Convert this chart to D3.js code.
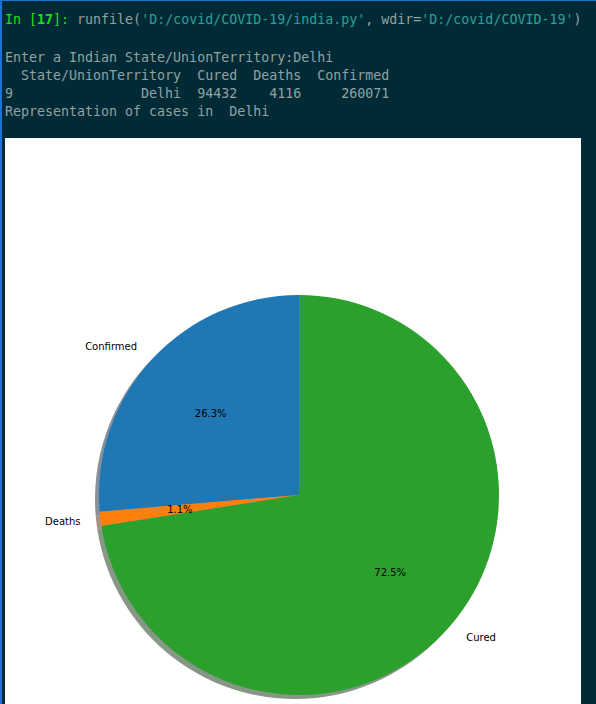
<!DOCTYPE html>
<html><head><meta charset="utf-8">
<script src="https://cdn.jsdelivr.net/npm/d3@7"></script>
<style>html,body{margin:0;padding:0;background:#002b36;overflow:hidden}</style>
</head><body>
<svg id="c" width="596" height="704"></svg>
<script>
// data
const sliceLabels = ["Confirmed", "Deaths", "Cured"];
const sliceValues = [94432, 4116, 260071];
const sliceColors = ["#1f77b4", "#ff7f0e", "#2ca02c"];
const tableHeader = "  State/UnionTerritory  Cured  Deaths  Confirmed";
const tableRow    = "9                Delhi  94432    4116     260071";

const svg = d3.select("#c");
svg.append("rect").attr("width",596).attr("height",704).attr("fill","#002b36");
svg.append("rect").attr("x",0).attr("y",0).attr("width",2).attr("height",704).attr("fill","#1e73d2");
svg.append("rect").attr("x",0).attr("y",0).attr("width",596).attr("height",1).attr("fill","#1e73d2");

const mono = "'DejaVu Sans Mono', monospace";
const gray = "#93a1a1", teal = "#2aa198", green = "#18e018";
function line(y, parts){
  const t = svg.append("text").attr("x",5).attr("y",y)
    .attr("font-family",mono).attr("font-size","13.3px").attr("xml:space","preserve")
    .style("white-space","pre");
  parts.forEach(p=>t.append("tspan").attr("fill",p[1]).attr("font-weight",p[2]||"normal").text(p[0]));
}
line(24, [["In [",green],["17",green,"bold"],["]: ",green],["runfile(",gray],["'D:/covid/COVID-19/india.py'",teal],[", wdir=",gray],["'D:/covid/COVID-19'",teal],[")",gray]]);
line(62, [["Enter a Indian State/UnionTerritory:Delhi",gray]]);
line(80, [[tableHeader,gray]]);
line(98, [[tableRow,gray]]);
line(116, [["Representation of cases in  Delhi",gray]]);

// figure panel
svg.append("rect").attr("x",5).attr("y",138).attr("width",576).attr("height",570).attr("fill","#ffffff");

const cx = 299, cy = 495, R = 200;
const pie = d3.pie().sort(null).startAngle(0).endAngle(-2*Math.PI);
const arcs = pie(sliceValues);
const arc = d3.arc().innerRadius(0).outerRadius(R);
const total = d3.sum(sliceValues);

const g = svg.append("g").attr("transform",`translate(${cx},${cy})`);
// shadow
const sh = g.append("g").attr("transform",`translate(${-0.02*R},${0.02*R})`);
sh.selectAll("path").data(arcs).join("path").attr("d",arc)
  .attr("fill",(d,i)=>{const c=d3.rgb(sliceColors[i]);return d3.rgb(c.r*0.3,c.g*0.3,c.b*0.3).formatHex();})
  .attr("opacity",0.5);
g.selectAll("path.w").data(arcs).join("path").attr("class","w").attr("d",arc)
  .attr("fill",(d,i)=>sliceColors[i]);

const sans = "'DejaVu Sans', sans-serif";
const pctArc = d3.arc().innerRadius(0.6*R).outerRadius(0.6*R);
const lblArc = d3.arc().innerRadius(1.1*R).outerRadius(1.1*R);
g.selectAll("text.p").data(arcs).join("text").attr("class","p")
  .attr("transform",d=>`translate(${pctArc.centroid(d)})`)
  .attr("text-anchor","middle").attr("dominant-baseline","central")
  .attr("font-family",sans).attr("font-size","10px").attr("fill","#000")
  .text(d=>(100*d.value/total).toFixed(1)+"%");
g.selectAll("text.l").data(arcs).join("text").attr("class","l")
  .attr("transform",d=>`translate(${lblArc.centroid(d)})`)
  .attr("text-anchor",d=>lblArc.centroid(d)[0]<0?"end":"start")
  .attr("dominant-baseline","central")
  .attr("font-family",sans).attr("font-size","10px").attr("fill","#000")
  .text((d,i)=>sliceLabels[i]);
</script>
</body></html>
